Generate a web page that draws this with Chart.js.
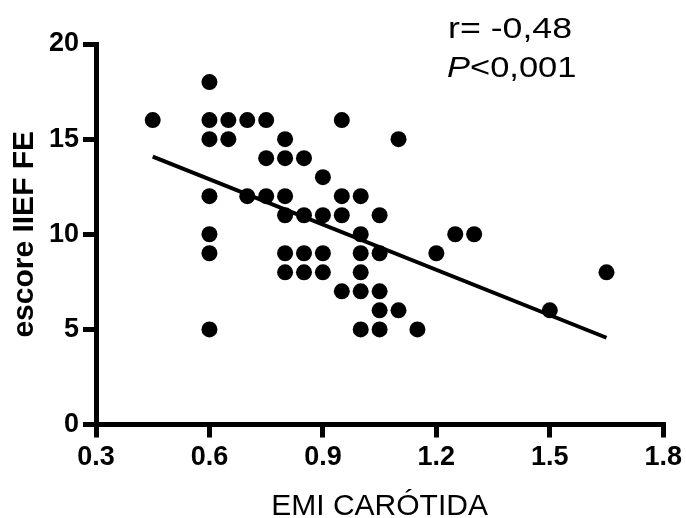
<!DOCTYPE html>
<html>
<head>
<meta charset="utf-8">
<script src="https://cdn.jsdelivr.net/npm/chart.js@4.4.1/dist/chart.umd.min.js"></script>
<style>
  html, body { margin: 0; padding: 0; background: #fff; }
  #wrap { width: 686px; height: 518px; }
</style>
</head>
<body>
<div id="wrap"><canvas id="c" width="686" height="518"></canvas></div>
<script>
// ---- data ----
const emiX = [
  0.60,
  0.45, 0.60, 0.65, 0.70, 0.75, 0.95,
  0.60, 0.65, 0.80, 1.10,
  0.75, 0.80, 0.85,
  0.90,
  0.60, 0.70, 0.75, 0.80, 0.95, 1.00,
  0.80, 0.85, 0.90, 0.95, 1.05,
  0.60, 1.00, 1.25, 1.30,
  0.60, 0.80, 0.85, 0.90, 1.00, 1.05, 1.20,
  0.80, 0.85, 0.90, 1.00, 1.65,
  0.95, 1.00, 1.05,
  1.05, 1.10, 1.50,
  0.60, 1.00, 1.05, 1.15
];
const iiefY = [
  18,
  16, 16, 16, 16, 16, 16,
  15, 15, 15, 15,
  14, 14, 14,
  13,
  12, 12, 12, 12, 12, 12,
  11, 11, 11, 11, 11,
  10, 10, 10, 10,
  9, 9, 9, 9, 9, 9, 9,
  8, 8, 8, 8, 8,
  7, 7, 7,
  6, 6, 6,
  5, 5, 5, 5
];
const fitX = [0.45, 1.65];
const fitY = [14.08, 4.56];
const xTicks = [0.3, 0.6, 0.9, 1.2, 1.5, 1.8];
const xTickLabels = ['0.3', '0.6', '0.9', '1.2', '1.5', '1.8'];
const yTicks = [0, 5, 10, 15, 20];
const yTickLabels = ['0', '5', '10', '15', '20'];
const xTitle = 'EMI CARÓTIDA';
const yTitle = 'escore IIEF FE';
const statR = 'r= -0,48';
const statP = 'P';
const statPRest = '<0,001';

const points = emiX.map((x, i) => ({ x: x, y: iiefY[i] }));
const fitPoints = fitX.map((x, i) => ({ x: x, y: fitY[i] }));

const statsPlugin = {
  id: 'stats',
  afterDraw(chart) {
    const ctx = chart.ctx;
    ctx.save();
    ctx.fillStyle = '#000';
    ctx.textBaseline = 'alphabetic';
    ctx.textAlign = 'left';
    ctx.save();
    ctx.translate(448, 38);
    ctx.scale(1.19, 1);
    ctx.font = '30px "Liberation Sans", Arial, sans-serif';
    ctx.fillText(statR, 0, 0);
    ctx.restore();
    ctx.save();
    ctx.translate(447, 77);
    ctx.scale(1.15, 1);
    ctx.font = 'italic 30px "Liberation Sans", Arial, sans-serif';
    ctx.fillText(statP, 0, 0);
    const w = ctx.measureText(statP).width;
    ctx.font = '30px "Liberation Sans", Arial, sans-serif';
    ctx.fillText(statPRest, w, 0);
    ctx.restore();
    ctx.restore();
  }
};

const tickFont = { family: '"Liberation Sans", Arial, sans-serif', size: 27, weight: 'bold' };

new Chart(document.getElementById('c'), {
  type: 'scatter',
  data: {
    datasets: [
      {
        type: 'line',
        data: fitPoints,
        borderColor: '#000',
        borderWidth: 4,
        pointRadius: 0,
        fill: false,
        tension: 0,
        order: 1
      },
      {
        data: points,
        backgroundColor: '#000',
        borderColor: '#000',
        borderWidth: 0,
        pointRadius: 8,
        pointHoverRadius: 8,
        order: 0
      }
    ]
  },
  options: {
    responsive: false,
    animation: false,
    devicePixelRatio: 1,
    clip: false,
    layout: { padding: { top: 44, right: 18, bottom: 0, left: 0 } },
    plugins: {
      legend: { display: false },
      tooltip: { enabled: false }
    },
    scales: {
      x: {
        type: 'linear',
        min: 0.3,
        max: 1.8,
        afterFit(scale) { scale.height = 93.5; },
        afterBuildTicks(scale) { scale.ticks = xTicks.map(v => ({ value: v })); },
        border: { display: true, color: '#000', width: 5 },
        grid: {
          display: true,
          drawOnChartArea: false,
          drawTicks: true,
          lineWidth: 5,
          color: '#000',
          tickLength: 13,
          tickWidth: 5,
          tickColor: '#000'
        },
        ticks: {
          padding: 4,
          color: '#000',
          maxRotation: 0,
          font: tickFont,
          callback(value, index) { return xTickLabels[index]; }
        },
        title: {
          display: true,
          text: xTitle,
          color: '#000',
          padding: { top: 0, bottom: 0 },
          font: { family: '"Liberation Sans", Arial, sans-serif', size: 30, weight: 'normal', lineHeight: 0.77 }
        }
      },
      y: {
        type: 'linear',
        min: 0,
        max: 20,
        afterFit(scale) { scale.width = 96; },
        afterBuildTicks(scale) { scale.ticks = yTicks.map(v => ({ value: v })); },
        border: { display: true, color: '#000', width: 5 },
        grid: {
          display: true,
          drawOnChartArea: false,
          drawTicks: true,
          lineWidth: 5,
          color: '#000',
          tickLength: 13,
          tickWidth: 5,
          tickColor: '#000'
        },
        ticks: {
          padding: 4,
          color: '#000',
          font: tickFont,
          callback(value, index) { return yTickLabels[index]; }
        },
        title: {
          display: true,
          text: yTitle,
          color: '#000',
          padding: { top: 7, bottom: 0 },
          font: { family: '"Liberation Sans", Arial, sans-serif', size: 30, weight: 'bold', lineHeight: 1.2 }
        }
      }
    }
  },
  plugins: [statsPlugin]
});
</script>
</body>
</html>
